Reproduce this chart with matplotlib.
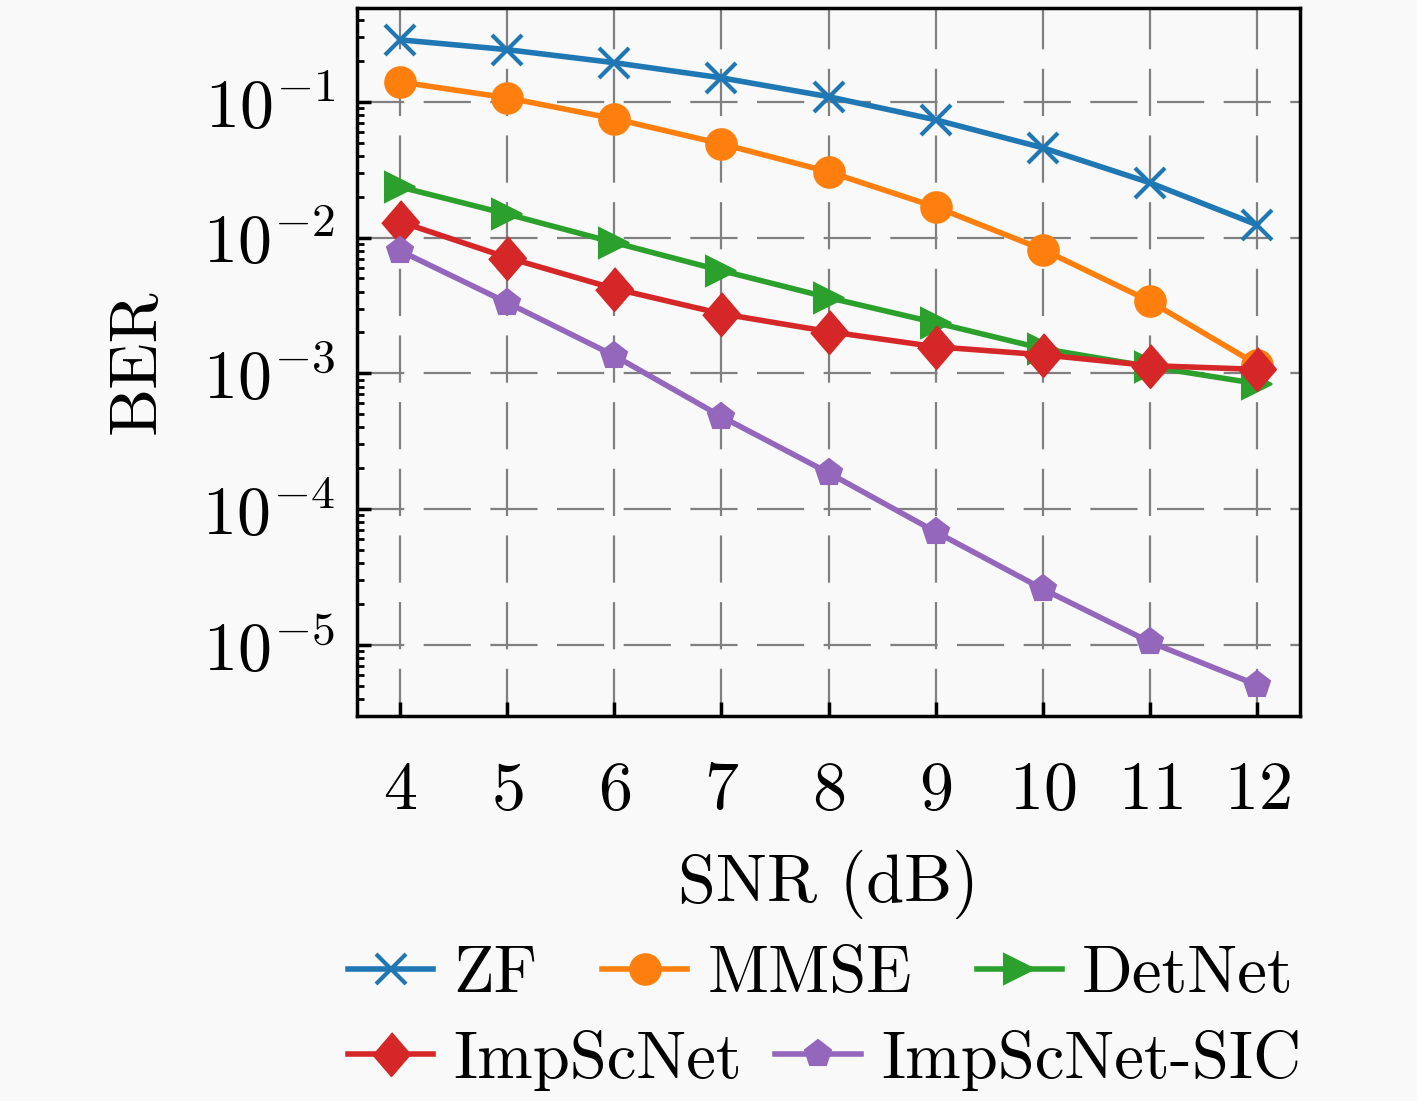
import matplotlib
matplotlib.use("Agg")
import matplotlib.pyplot as plt

# SNR points and BER curves
snr = [4, 5, 6, 7, 8, 9, 10, 11, 12]
ber_zf = [0.286, 0.242, 0.194, 0.150, 0.109, 0.0736, 0.0458, 0.0253, 0.0124]
ber_mmse = [0.140, 0.107, 0.075, 0.049, 0.0305, 0.0168, 0.00816, 0.00339, 0.00116]
ber_detnet = [0.0236, 0.0149, 0.00919, 0.00571, 0.00361, 0.00236, 0.00152, 0.00112, 0.00084]
ber_impsc = [0.0131, 0.00713, 0.00421, 0.00275, 0.00203, 0.00157, 0.00137, 0.00114, 0.00107]
ber_sic = [0.0080, 0.00332, 0.00135, 0.00048, 0.000185, 6.8e-5, 2.58e-5, 1.05e-5, 5.07e-6]

plt.rcParams["font.family"] = ["cmr10"]
plt.rcParams["mathtext.fontset"] = "cm"
plt.rcParams["axes.formatter.use_mathtext"] = True
plt.rcParams["lines.scale_dashes"] = False

BG = "#f9f9f9"
FS = 49

diamond = [(0, 1), (0.86, 0), (0, -1), (-0.86, 0)]
series = [
    ("ZF", ber_zf, "#1f77b4", "x", 21),
    ("MMSE", ber_mmse, "#ff7f0e", "o", 22),
    ("DetNet", ber_detnet, "#2ca02c", ">", 22),
    ("ImpScNet", ber_impsc, "#d62728", diamond, 31),
    ("ImpScNet-SIC", ber_sic, "#9467bd", "p", 20),
]

fig = plt.figure(figsize=(14.17, 11.01), dpi=100, facecolor=BG)
ax = fig.add_axes([0.252, 0.3497, 0.6655, 0.643], facecolor=BG)

handles = []
for label, ys, color, marker, ms in series:
    mew = 3 if marker == "x" else 1.5
    (h,) = ax.plot(snr, ys, color=color, lw=4, marker=marker, ms=ms,
                   mew=mew, mec=color, mfc=color, label=label)
    handles.append(h)

ax.set_yscale("log")
ax.set_xlim(3.6, 12.4)
ax.set_ylim(3.0e-6, 0.49)
ax.set_xticks(snr)
ax.set_yticks([1e-5, 1e-4, 1e-3, 1e-2, 1e-1])
ax.tick_params(axis="both", which="major", direction="in", length=10, width=2.5,
               labelsize=FS)
ax.tick_params(axis="x", which="major", pad=32)
ax.tick_params(axis="y", which="major", pad=16)
ax.tick_params(axis="y", which="minor", direction="in", length=5, width=2)
ax.grid(True, which="major", color="#808080", lw=1.6, linestyle=(0, (34, 14)))
ax.set_axisbelow(True)
for sp in ax.spines.values():
    sp.set_linewidth(2.5)

ax.set_xlabel("SNR (dB)", fontsize=FS, labelpad=20)
ax.set_ylabel("BER", fontsize=FS, labelpad=24)

leg_kw = dict(frameon=False, fontsize=48, handlelength=1.28, handletextpad=0.3,
              borderpad=0, borderaxespad=0, loc="center left")
leg1 = fig.legend(handles=handles[:3], ncol=3, columnspacing=0.97,
                  bbox_to_anchor=(0.2456, 0.1144), **leg_kw)
leg2 = fig.legend(handles=handles[3:], ncol=2, columnspacing=0.5,
                  bbox_to_anchor=(0.2456, 0.0372), **leg_kw)

fig.savefig("out.png", dpi=100, facecolor=BG)
